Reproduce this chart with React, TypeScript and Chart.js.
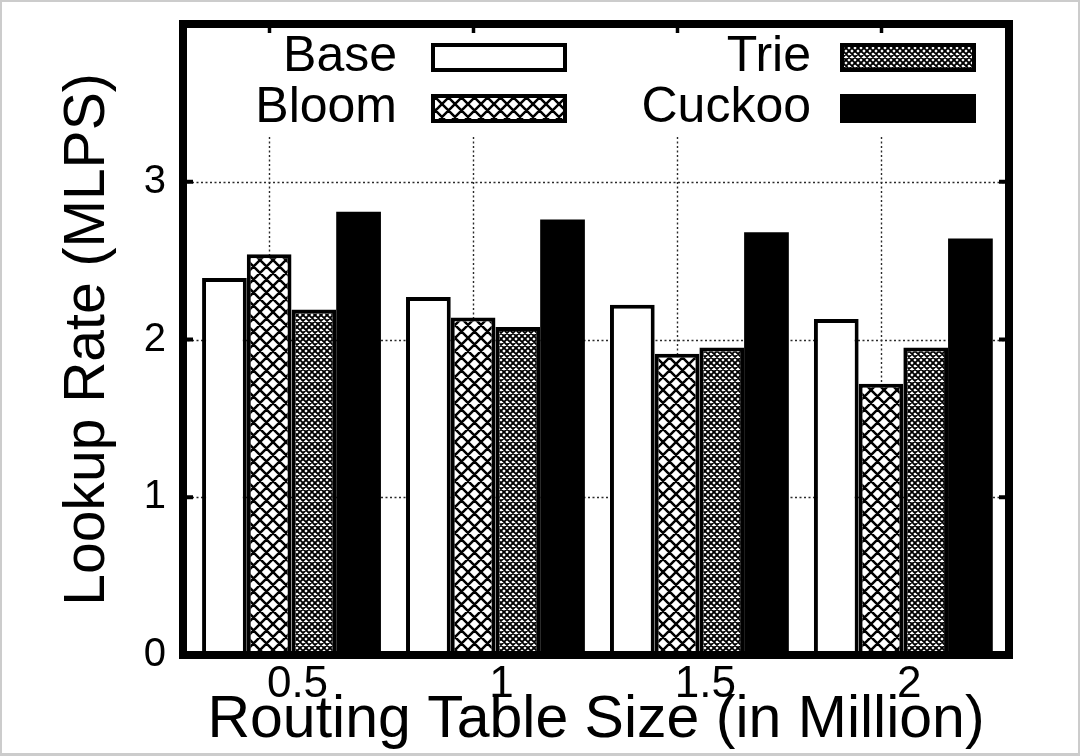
import React, { useEffect, useRef } from 'react';
import { Chart, registerables } from 'chart.js';

Chart.register(...registerables);

// ---- data ----
const X_VALUES = [0.5, 1, 1.5, 2];
const X_TICK_LABELS = ['0.5', '1', '1.5', '2'];
const Y_TICKS = [0, 1, 2, 3];
const SERIES_NAMES = ['Base', 'Bloom', 'Trie', 'Cuckoo'];
const BASE = [2.39, 2.27, 2.22, 2.13];
const BLOOM = [2.54, 2.14, 1.91, 1.72];
const TRIE = [2.19, 2.08, 1.95, 1.95];
const CUCKOO = [2.81, 2.76, 2.68, 2.64];
const X_TITLE = 'Routing Table Size (in Million)';
const Y_TITLE = 'Lookup Rate (MLPS)';

// ---- axis ranges / layout ----
const X_MIN = 0.234;
const X_MAX = 2.259;
const Y_MIN = 0;
const Y_MAX = 4;
const FONT = '"Liberation Sans", Arial, Helvetica, sans-serif';
const LEGEND_BOTTOM = 137;
const LEGEND_ROWS = [57.5, 108.5];
const LEGEND_COLS = [
  { textRight: 397, boxLeft: 431 },
  { textRight: 811, boxLeft: 840 },
];
const SWATCH_W = 136;
const SWATCH_H = 29;

function hatch(cell: number, tile: number, lw: number): CanvasPattern | string {
  const c = document.createElement('canvas');
  c.width = tile;
  c.height = tile;
  const g = c.getContext('2d');
  if (!g) return '#888';
  g.fillStyle = '#fff';
  g.fillRect(0, 0, tile, tile);
  g.strokeStyle = '#000';
  g.lineWidth = lw;
  g.beginPath();
  for (let k = -4; k <= 8; k++) {
    const o = k * cell;
    g.moveTo(-tile, -tile + o);
    g.lineTo(2 * tile, 2 * tile + o);
    g.moveTo(-tile, tile + o);
    g.lineTo(2 * tile, -2 * tile + o);
  }
  g.stroke();
  const p = g.createPattern(c, 'repeat');
  return p || '#888';
}

function line(ctx: CanvasRenderingContext2D, x1: number, y1: number, x2: number, y2: number) {
  ctx.beginPath();
  ctx.moveTo(x1, y1);
  ctx.lineTo(x2, y2);
  ctx.stroke();
}

const gnuplotPlugin = {
  id: 'gnuplotDecor',
  beforeDatasetsDraw(chart: any) {
    const { ctx, chartArea } = chart;
    const { left, right, bottom } = chartArea;
    const y = chart.scales.y;
    ctx.save();
    ctx.strokeStyle = '#2a2a2a';
    ctx.lineWidth = 1.4;
    ctx.setLineDash([2, 2.5]);
    Y_TICKS.filter((v) => v > Y_MIN).forEach((v) => {
      const py = Math.round(y.getPixelForValue(v)) + 0.5;
      line(ctx, left, py, right, py);
    });
    const bloom = chart.getDatasetMeta(1);
    bloom.data.forEach((el: any) => {
      const px = Math.round(el.x) + 0.5;
      line(ctx, px, LEGEND_BOTTOM, px, bottom);
    });
    ctx.restore();
  },
  afterDatasetsDraw(chart: any) {
    const { ctx, chartArea } = chart;
    const { left, right, top, bottom } = chartArea;
    const y = chart.scales.y;
    ctx.save();
    // frame
    ctx.strokeStyle = '#000';
    ctx.lineWidth = 8;
    ctx.strokeRect(left, top, right - left, bottom - top);
    // inward ticks
    ctx.lineWidth = 4;
    Y_TICKS.filter((v) => v > Y_MIN).forEach((v) => {
      const py = y.getPixelForValue(v);
      line(ctx, left, py, left + 10, py);
      line(ctx, right - 10, py, right, py);
    });
    ctx.lineWidth = 3.5;
    const bloom = chart.getDatasetMeta(1);
    bloom.data.forEach((el: any) => {
      const px = Math.round(el.x) + 0.5;
      line(ctx, px, top, px, top + 9);
    });
    // legend
    ctx.font = `50px ${FONT}`;
    ctx.textAlign = 'right';
    ctx.textBaseline = 'middle';
    chart.data.datasets.forEach((ds: any, i: number) => {
      const col = LEGEND_COLS[Math.floor(i / 2)];
      const rowY = LEGEND_ROWS[i % 2];
      ctx.fillStyle = '#000';
      ctx.fillText(ds.label, col.textRight, rowY);
      const bx = col.boxLeft;
      const by = rowY - SWATCH_H / 2;
      ctx.fillStyle = ds.backgroundColor;
      ctx.fillRect(bx, by, SWATCH_W, SWATCH_H);
      ctx.strokeStyle = '#000';
      ctx.lineWidth = 4;
      ctx.strokeRect(bx + 2, by + 2, SWATCH_W - 4, SWATCH_H - 4);
    });
    ctx.restore();
  },
};

export default function App() {
  const ref = useRef<HTMLCanvasElement | null>(null);
  useEffect(() => {
    if (!ref.current) return;
    const bloomPattern = hatch(13, 26, 2.5);
    const triePattern = hatch(6, 12, 1.9);
    const series = [BASE, BLOOM, TRIE, CUCKOO];
    const fills: any[] = ['#ffffff', bloomPattern, triePattern, '#000000'];
    const chart = new Chart(ref.current, {
      type: 'bar',
      data: {
        datasets: series.map((vals, i) => ({
          label: SERIES_NAMES[i],
          data: X_VALUES.map((x, j) => ({ x, y: vals[j] })),
          backgroundColor: fills[i],
          borderColor: '#000000',
          borderWidth: i === 3 ? 0 : 4,
          borderSkipped: false,
          categoryPercentage: 0.877,
          barPercentage: 1,
        })) as any,
      },
      options: {
        animation: false,
        responsive: false,
        devicePixelRatio: 1,
        layout: { padding: { top: 24, right: 71, bottom: 0, left: 0 } },
        plugins: { legend: { display: false }, tooltip: { enabled: false } },
        scales: {
          x: {
            type: 'linear',
            offset: false,
            min: X_MIN,
            max: X_MAX,
            grid: { display: false, drawTicks: false },
            border: { display: false },
            afterBuildTicks: (s: any) => {
              s.ticks = X_VALUES.map((v) => ({ value: v }));
            },
            afterFit: (s: any) => {
              s.height = 101;
              s.paddingLeft = 0;
              s.paddingRight = 0;
            },
            ticks: {
              autoSkip: false,
              maxRotation: 0,
              minRotation: 0,
              padding: 7.5,
              labelOffset: 6,
              color: '#000',
              font: { family: FONT, size: 44, lineHeight: 1 },
              callback: (_v: any, i: number) => X_TICK_LABELS[i],
            },
            title: {
              display: true,
              text: X_TITLE,
              color: '#000',
              font: { family: FONT, size: 59, lineHeight: 1 },
              padding: { top: 0, bottom: 5.5 },
            },
          },
          y: {
            type: 'linear',
            min: Y_MIN,
            max: Y_MAX,
            grid: { display: false, drawTicks: false },
            border: { display: false },
            afterBuildTicks: (s: any) => {
              s.ticks = Y_TICKS.map((v) => ({ value: v }));
            },
            afterFit: (s: any) => {
              s.width = 183;
              s.paddingTop = 0;
              s.paddingBottom = 0;
            },
            ticks: {
              padding: 17,
              color: '#000',
              font: { family: FONT, size: 40, lineHeight: 1 },
              callback: (v: any) => String(v),
            },
            title: {
              display: true,
              text: Y_TITLE,
              color: '#000',
              font: { family: FONT, size: 57, lineHeight: 1 },
              padding: { top: 60, bottom: 0 },
            },
          },
        },
      } as any,
      plugins: [gnuplotPlugin],
    });
    return () => chart.destroy();
  }, []);

  return (
    <div style={{ position: 'fixed', left: 0, top: 0, width: 1080, height: 756, background: '#fff' }}>
      <canvas ref={ref} width={1080} height={756} style={{ display: 'block', width: 1080, height: 756 }} />
      <div
        style={{
          position: 'absolute',
          left: 0,
          top: 0,
          width: 1080,
          height: 756,
          boxSizing: 'border-box',
          borderStyle: 'solid',
          borderColor: '#cccccc',
          borderWidth: '2px 2px 3px 2px',
          pointerEvents: 'none',
        }}
      />
    </div>
  );
}
